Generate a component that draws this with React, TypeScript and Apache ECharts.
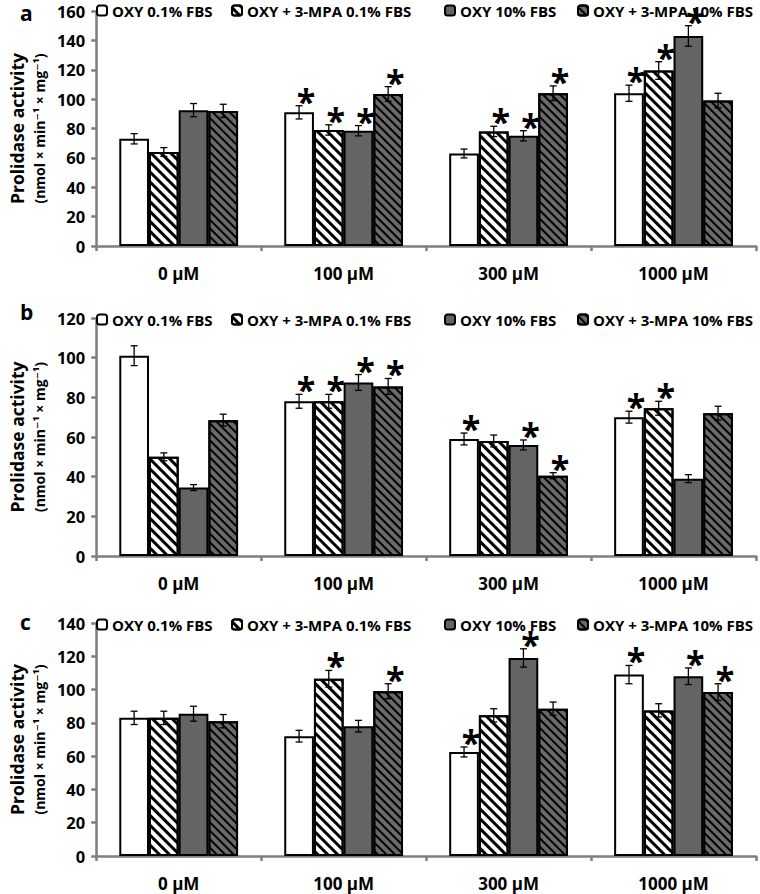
import React, { useEffect, useRef } from "react";
import * as echarts from "echarts";

const categories = ["0 µM", "100 µM", "300 µM", "1000 µM"];
const seriesNames = ["OXY 0.1% FBS", "OXY + 3-MPA 0.1% FBS", "OXY 10% FBS", "OXY + 3-MPA 10% FBS"];
const panelLetters = ["a", "b", "c"];
const yMax = [160, 120, 140];
const yTickStep = 20;

// Panel a
const aOxy01 = [73, 91, 63, 104];
const aMpa01 = [64, 79, 78, 119.5];
const aOxy10 = [92.5, 78.5, 75, 143];
const aMpa10 = [92, 103.5, 104, 99];
const aOxy01Err = [3.5, 4.5, 3, 5.5];
const aMpa01Err = [3, 3.5, 3.5, 6];
const aOxy10Err = [4.5, 3.5, 3.5, 7];
const aMpa10Err = [4.5, 5, 5, 5];
const aOxy01Star = [0, 1, 0, 1];
const aMpa01Star = [0, 1, 1, 1];
const aOxy10Star = [0, 1, 1, 1];
const aMpa10Star = [0, 1, 1, 0];

// Panel b
const bOxy01 = [101, 78, 59, 70];
const bMpa01 = [50, 78, 58, 74.5];
const bOxy10 = [34.5, 87.5, 56, 39];
const bMpa10 = [68.5, 85.5, 40.5, 72];
const bOxy01Err = [5, 3.5, 3, 3];
const bMpa01Err = [2, 3.5, 3, 3.5];
const bOxy10Err = [1.5, 4, 2.5, 2];
const bMpa10Err = [3, 4, 1.5, 3.5];
const bOxy01Star = [0, 1, 1, 1];
const bMpa01Star = [0, 1, 0, 1];
const bOxy10Star = [0, 1, 1, 0];
const bMpa10Star = [0, 1, 1, 0];

// Panel c
const cOxy01 = [83, 72, 62.5, 109];
const cMpa01 = [83, 106.5, 84.5, 87.5];
const cOxy10 = [85.5, 78, 119, 108];
const cMpa10 = [81, 99, 88.5, 98.5];
const cOxy01Err = [4, 3.5, 3, 5.5];
const cMpa01Err = [4, 5, 4, 4];
const cOxy10Err = [4.5, 3.5, 5.5, 5];
const cMpa10Err = [4, 4.5, 4, 5];
const cOxy01Star = [0, 0, 1, 1];
const cMpa01Star = [0, 1, 0, 0];
const cOxy10Star = [0, 0, 1, 1];
const cMpa10Star = [0, 1, 0, 1];

const panelValues = [
  [aOxy01, aMpa01, aOxy10, aMpa10],
  [bOxy01, bMpa01, bOxy10, bMpa10],
  [cOxy01, cMpa01, cOxy10, cMpa10],
];
const panelErrors = [
  [aOxy01Err, aMpa01Err, aOxy10Err, aMpa10Err],
  [bOxy01Err, bMpa01Err, bOxy10Err, bMpa10Err],
  [cOxy01Err, cMpa01Err, cOxy10Err, cMpa10Err],
];
const panelStars = [
  [aOxy01Star, aMpa01Star, aOxy10Star, aMpa10Star],
  [bOxy01Star, bMpa01Star, bOxy10Star, bMpa10Star],
  [cOxy01Star, cMpa01Star, cOxy10Star, cMpa10Star],
];

const FONT = "'Open Sans', 'DejaVu Sans', sans-serif";
const GAP = 0.28;

const gridTops = [11, 318, 623];
const gridHeights = [235, 238, 233];
const legendTops = [3, 312, 617];
const legendLefts = [96, 231, 444, 577];
const letterYs = [10, 309, 619];

const barStyles = [
  { color: "#ffffff", borderColor: "#000", borderWidth: 2 },
  {
    color: "#ffffff",
    borderColor: "#000",
    borderWidth: 2,
    decal: {
      symbol: "rect",
      symbolSize: 1,
      color: "#000000",
      dashArrayX: [1, 0],
      dashArrayY: [3, 4],
      rotation: Math.PI / 4,
    },
  },
  { color: "#646464", borderColor: "#000", borderWidth: 2 },
  {
    color: "#6a6a6a",
    borderColor: "#000",
    borderWidth: 2,
    decal: {
      symbol: "rect",
      symbolSize: 1,
      color: "#000000",
      dashArrayX: [1, 0],
      dashArrayY: [2, 4],
      rotation: Math.PI / 4,
    },
  },
];

export default function App() {
  const ref = useRef<HTMLDivElement>(null);
  useEffect(() => {
    if (!ref.current) return;
    const chart = echarts.init(ref.current, undefined, { renderer: "svg" });

    const grids: any[] = [];
    const xAxes: any[] = [];
    const yAxes: any[] = [];
    const legends: any[] = [];
    const series: any[] = [];
    const graphics: any[] = [];

    for (let p = 0; p < 3; p++) {
      grids.push({ left: 89, right: 4, top: gridTops[p], height: gridHeights[p] });
      xAxes.push({
        type: "category",
        gridIndex: p,
        data: categories,
        axisLine: { lineStyle: { color: "#7f7f7f", width: 2.5 } },
        axisTick: { show: true, length: 5, interval: 0, lineStyle: { color: "#7f7f7f", width: 2.5 } },
        axisLabel: { color: "#000", fontSize: 17, fontWeight: "bold", fontFamily: FONT, margin: 19 },
      });
      yAxes.push({
        type: "value",
        gridIndex: p,
        min: 0,
        max: yMax[p],
        interval: yTickStep,
        splitLine: { show: false },
        axisLine: { show: true, lineStyle: { color: "#7f7f7f", width: 2.5 } },
        axisTick: { show: true, length: 5, lineStyle: { color: "#7f7f7f", width: 2.5 } },
        axisLabel: { color: "#000", fontSize: 16.5, fontWeight: "bold", fontFamily: FONT, margin: 11 },
        name: "{t|Prolidase activity}\n{u|(nmol × min⁻¹ × mg⁻¹)}",
        nameLocation: "middle",
        nameRotate: 90,
        nameGap: 38,
        nameTextStyle: {
          rich: {
            t: { fontSize: 17.5, fontWeight: "bold", fontFamily: FONT, color: "#000", lineHeight: 24 },
            u: { fontSize: 14, fontWeight: "bold", fontFamily: FONT, color: "#000", lineHeight: 20 },
          },
        },
      });
      for (let s = 0; s < 4; s++) {
        series.push({
          type: "bar",
          name: seriesNames[s],
          xAxisIndex: p,
          yAxisIndex: p,
          data: panelValues[p][s],
          barGap: "0%",
          barCategoryGap: GAP * 100 + "%",
          itemStyle: barStyles[s],
          emphasis: { disabled: true },
        });
        legends.push({
          data: [seriesNames[s]],
          left: legendLefts[s],
          top: legendTops[p],
          selectedMode: false,
          itemWidth: 10,
          itemHeight: 10,
          padding: 0,
          textStyle: { fontSize: 15, fontWeight: "bold", fontFamily: FONT, color: "#000" },
        });
      }
      const errData: any[] = [];
      for (let s = 0; s < 4; s++) {
        for (let c = 0; c < categories.length; c++) {
          errData.push([c, s, panelValues[p][s][c], panelErrors[p][s][c], panelStars[p][s][c]]);
        }
      }
      series.push({
        type: "custom",
        xAxisIndex: p,
        yAxisIndex: p,
        z: 10,
        data: errData,
        encode: { x: 0, y: 2 },
        silent: true,
        renderItem: (params: any, api: any) => {
          const c = api.value(0);
          const s = api.value(1);
          const v = api.value(2);
          const e = api.value(3);
          const star = api.value(4);
          const catW = api.size([1, 0])[0];
          const bw = (catW * (1 - GAP)) / 4;
          const center = api.coord([c, v]);
          const x = center[0] + (s - 1.5) * bw;
          const top = api.coord([c, v + e])[1];
          const bot = api.coord([c, v - e])[1];
          const cap = 3.5;
          const st = { stroke: "#000", lineWidth: 1.3 };
          const children: any[] = [
            { type: "line", shape: { x1: x, y1: top, x2: x, y2: bot }, style: st },
            { type: "line", shape: { x1: x - cap, y1: top, x2: x + cap, y2: top }, style: st },
            { type: "line", shape: { x1: x - cap, y1: bot, x2: x + cap, y2: bot }, style: st },
          ];
          if (star) {
            children.push({
              type: "text",
              x: x + 7,
              y: top - 5,
              style: {
                text: "*",
                font: "bold 34px " + FONT,
                lineHeight: 16,
                fill: "#000",
                align: "center",
                verticalAlign: "middle",
              },
            });
          }
          return { type: "group", children };
        },
      });
      graphics.push({
        type: "text",
        left: 20,
        top: letterYs[p] - 8,
        style: { text: panelLetters[p], font: "bold 21px " + FONT, lineHeight: 21, fill: "#000" },
      });
    }

    chart.setOption({
      animation: false,
      backgroundColor: "#fff",
      grid: grids,
      xAxis: xAxes,
      yAxis: yAxes,
      legend: legends,
      series,
      graphic: graphics,
    });
    return () => chart.dispose();
  }, []);
  return (
    <div
      ref={ref}
      style={{ position: "fixed", left: 0, top: 0, width: 760, height: 894, background: "#fff" }}
    />
  );
}
